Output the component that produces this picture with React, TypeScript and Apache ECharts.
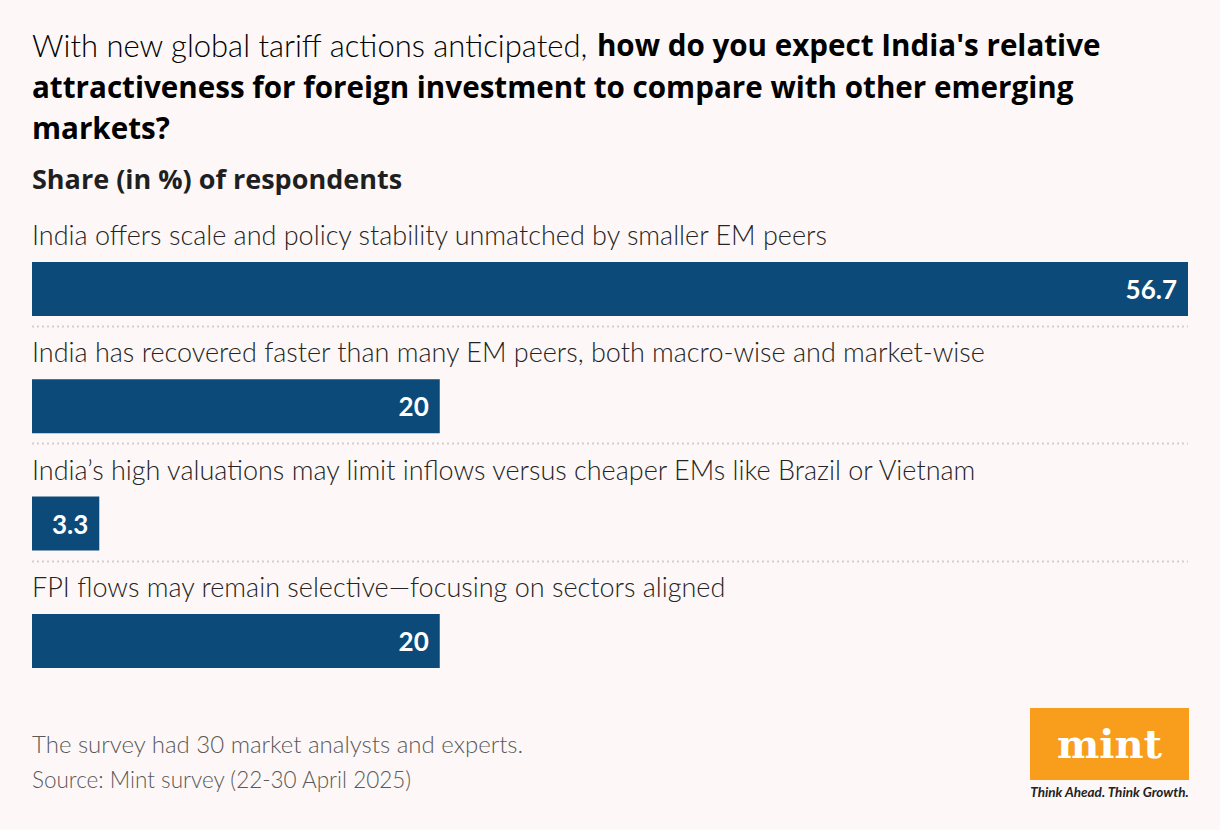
import React, { useEffect, useRef } from "react";
import * as echarts from "echarts";

const categories = [
  "India offers scale and policy stability unmatched by smaller EM peers",
  "India has recovered faster than many EM peers, both macro-wise and market-wise",
  "India\u2019s high valuations may limit inflows versus cheaper EMs like Brazil or Vietnam",
  "FPI flows may remain selective\u2014focusing on sectors aligned",
];
const values = [56.7, 20, 3.3, 20];

const titleLight = "With new global tariff actions anticipated, ";
const titleBold1 = "how do you expect India's relative";
const titleBold2 = "attractiveness for foreign investment to compare with other emerging";
const titleBold3 = "markets?";
const subtitle = "Share (in %) of respondents";
const note = "The survey had 30 market analysts and experts.";
const source = "Source: Mint survey (22-30 April 2025)";

const FONT = "Lato, 'Noto Sans', sans-serif";
const BOLD = "'Open Sans', Lato, sans-serif";
const BAR = "#0b4a79";
const BG = "#fdf8f7";

export default function App() {
  const ref = useRef<HTMLDivElement>(null);
  useEffect(() => {
    if (!ref.current) return;
    const chart = echarts.init(ref.current, undefined, { renderer: "svg" });
    const option: any = {
      animation: false,
      backgroundColor: BG,
      grid: { left: 32, right: 32, top: 230.3, height: 469.3, containLabel: false },
      xAxis: { type: "value", min: 0, max: 56.7, show: false },
      yAxis: {
        type: "category",
        inverse: true,
        data: categories,
        z: 10,
        axisLine: { show: false },
        axisTick: { show: false },
        splitLine: { show: false },
        axisLabel: {
          inside: true,
          margin: 0,
          interval: 0,
          align: "left",
          verticalAlign: "middle",
          formatter: (v: string) => "{c|" + v + "}",
          rich: {
            c: {
              padding: [0, 0, 109, 0],
              fontFamily: FONT,
              fontSize: 27,
              fontWeight: 300,
              color: "#242424",
            },
          },
        },
      },
      series: [
        {
          type: "bar",
          data: values,
          barWidth: 54,
          itemStyle: { color: BAR },
          label: {
            show: true,
            position: "insideRight",
            distance: 11,
            color: "#ffffff",
            fontFamily: FONT,
            fontWeight: "bold",
            fontSize: 26,
            formatter: (p: any) => String(p.value),
          },
        },
      ],
    };
    chart.setOption(option);

    const lines: any[] = [];
    for (let i = 0; i < categories.length - 1; i++) {
      const y = chart.convertToPixel({ yAxisIndex: 0 }, categories[i] as any) as number;
      const yy = Math.round(y + 37) + 0.5;
      lines.push({
        type: "line",
        shape: { x1: 32, y1: yy, x2: 1188, y2: yy },
        style: { stroke: "#d2d0cf", lineWidth: 2, lineDash: [2, 3] },
      });
    }

    chart.setOption({
      graphic: [
        {
          type: "text",
          left: 32,
          top: 29,
          style: {
            text:
              "{l|" + titleLight + "}{b|" + titleBold1 + "}\n{b|" + titleBold2 + "}\n{b|" + titleBold3 + "}",
            rich: {
              l: { fontFamily: FONT, fontSize: 31, fontWeight: 300, color: "#555555", lineHeight: 41.5 },
              b: { fontFamily: BOLD, fontSize: 29.6, fontWeight: "bold", color: "#565656", lineHeight: 41.5 },
            },
          },
        },
        {
          type: "text",
          left: 32,
          top: 165,
          style: { text: subtitle, fontFamily: BOLD, fontSize: 27, fontWeight: "bold", fill: "#1f1f1f" },
        },
        {
          type: "text",
          left: 32,
          top: 731,
          style: { text: note, fontFamily: FONT, fontSize: 24, fontWeight: 300, fill: "#5a5a5a" },
        },
        {
          type: "text",
          left: 32,
          top: 768,
          style: { text: source, fontFamily: FONT, fontSize: 22.5, fontWeight: 300, fill: "#5a5a5a" },
        },
        {
          type: "rect",
          shape: { x: 1030, y: 708, width: 159, height: 72 },
          style: { fill: "#f99d1c" },
        },
        {
          type: "text",
          x: 1109.5,
          y: 743,
          style: {
            text: "mint",
            fontFamily: "'DejaVu Serif', serif",
            fontWeight: "bold",
            fontSize: 40,
            fill: "#ffffff",
            align: "center",
            verticalAlign: "middle",
          },
        },
        {
          type: "text",
          x: 1109.5,
          y: 792,
          style: {
            text: "Think Ahead. Think Growth.",
            fontFamily: FONT,
            fontStyle: "italic",
            fontWeight: "bold",
            fontSize: 13.5,
            fill: "#222222",
            align: "center",
            verticalAlign: "middle",
          },
        },
        ...lines,
      ],
    });
    return () => chart.dispose();
  }, []);
  return (
    <div
      ref={ref}
      style={{ position: "absolute", left: 0, top: 0, width: 1220, height: 830, background: BG }}
    />
  );
}
